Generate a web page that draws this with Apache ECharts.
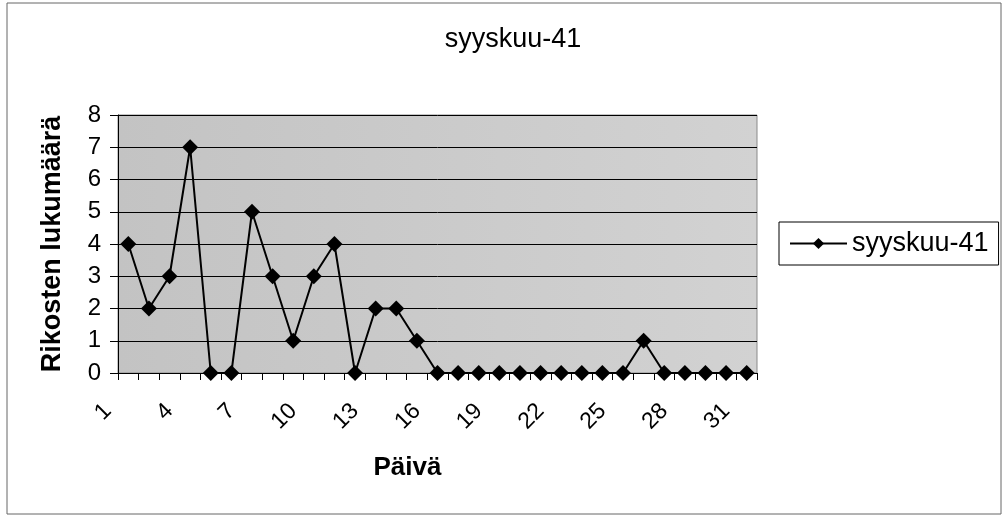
<!DOCTYPE html>
<html>
<head>
<meta charset="utf-8">
<title>syyskuu-41</title>
<script src="https://cdn.jsdelivr.net/npm/echarts@6/dist/echarts.min.js"></script>
<style>
  html, body { margin: 0; padding: 0; background: #fff; }
  #chart { width: 1004px; height: 517px; }
</style>
</head>
<body>
<div id="chart"></div>
<script>
// päivät 1..31
var days = [];
for (var d = 1; d <= 31; d++) days.push(String(d));

// rikosten lukumäärä päivittäin
var counts = [4, 2, 3, 7, 0, 0, 5, 3, 1, 3, 4, 0, 2, 2, 1, 0,
              0, 0, 0, 0, 0, 0, 0, 0, 0, 1, 0, 0, 0, 0, 0];

var seriesName = 'syyskuu-41';
var titleText = 'syyskuu-41';
var xName = 'Päivä';
var yName = 'Rikosten lukumäärä';

var font = '"Liberation Sans", Arial, sans-serif';

var chart = echarts.init(document.getElementById('chart'));
chart.setOption({
    animation: false,
    backgroundColor: '#fff',
    textStyle: { fontFamily: font, color: '#000' },
    title: {
        text: titleText,
        left: 508,
        top: 21,
        textAlign: 'center',
        textStyle: { fontFamily: font, fontSize: 27, fontWeight: 'normal', color: '#000' }
    },
    legend: {
        left: 779,
        top: 222,
        orient: 'vertical',
        padding: [8, 10, 8, 10],
        borderColor: '#000',
        borderWidth: 1,
        itemWidth: 57,
        itemHeight: 14,
        textStyle: { fontFamily: font, fontSize: 27, color: '#000' },
        data: [seriesName]
    },
    // kaavion ulkoreunus
    graphic: [{
        type: 'rect',
        shape: { x: 7, y: 3, width: 994, height: 511 },
        style: { fill: null, stroke: '#666', lineWidth: 1 },
        silent: true
    }],
    grid: {
        left: 118,
        top: 115,
        width: 639,
        height: 258,
        show: true,
        backgroundColor: new echarts.graphic.LinearGradient(0, 0, 1, 0, [
            { offset: 0, color: '#c3c3c3' },
            { offset: 1, color: '#d2d2d2' }
        ]),
        borderColor: '#8a8a8a',
        borderWidth: 1
    },
    xAxis: {
        type: 'category',
        data: days,
        boundaryGap: true,
        name: xName,
        nameLocation: 'middle',
        nameGap: 82,
        nameTextStyle: {
            fontFamily: font, fontSize: 26, fontWeight: 'bold', color: '#000',
            padding: [0, 60, 0, 0]
        },
        axisLine: { lineStyle: { color: '#000', width: 1 } },
        axisTick: { show: true, interval: 0, length: 7, lineStyle: { color: '#000' } },
        axisLabel: {
            interval: 2,
            rotate: 45,
            margin: 14,
            padding: [0, 29, 0, 0],
            fontFamily: font,
            fontSize: 23,
            color: '#000'
        },
        splitLine: { show: false }
    },
    yAxis: {
        type: 'value',
        min: 0,
        max: 8,
        interval: 1,
        name: yName,
        nameLocation: 'middle',
        nameGap: 52,
        nameTextStyle: { fontFamily: font, fontSize: 27, fontWeight: 'bold', color: '#000' },
        axisLine: { show: true, lineStyle: { color: '#000', width: 1 } },
        axisTick: { show: true, length: 8, lineStyle: { color: '#000' } },
        axisLabel: { margin: 17, fontFamily: font, fontSize: 24, color: '#000' },
        splitLine: { show: true, lineStyle: { color: '#000', width: 1 } }
    },
    series: [{
        name: seriesName,
        type: 'line',
        data: counts,
        symbol: 'diamond',
        symbolSize: 16,
        showAllSymbol: true,
        itemStyle: { color: '#000' },
        lineStyle: { color: '#000', width: 2 }
    }]
});
</script>
</body>
</html>
